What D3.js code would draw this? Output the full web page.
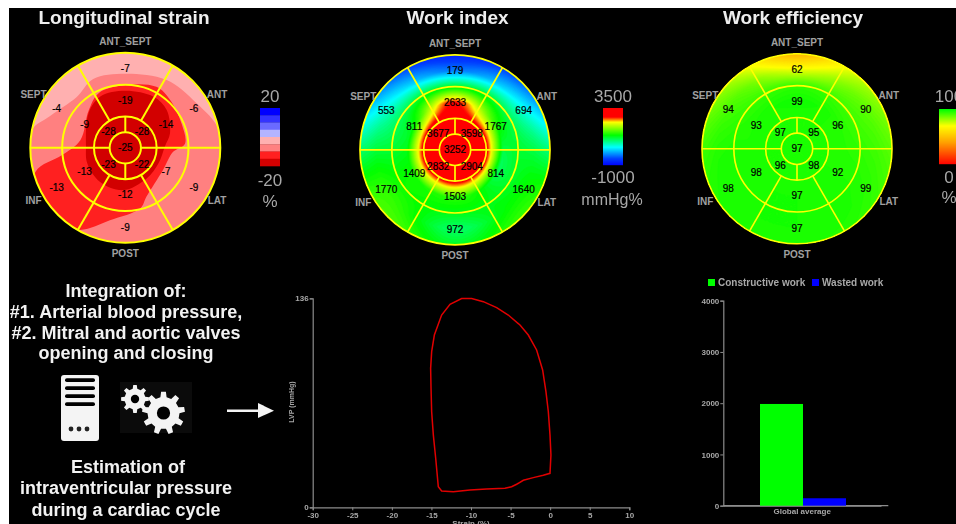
<!DOCTYPE html>
<html lang="en">
<head>
<meta charset="UTF-8">
<title>Longitudinal strain, work index and work efficiency</title>
<script src="https://d3js.org/d3.v7.min.js"></script>
<style>
  html, body { margin: 0; padding: 0; background: #fff; }
  svg { display: block; filter: blur(0.4px); font-family: "Liberation Sans", Arial, sans-serif; }
</style>
</head>
<body>
<svg id="chart" width="956" height="524"></svg>
<script>
// rim labels, clockwise from the top
const wallLabels = ['ANT_SEPT', 'ANT', 'LAT', 'POST', 'INF', 'SEPT'];

// segment values, same order as wallLabels (inner ring has four)
const strainOuter = [-7, -6, -9, -9, -13, -4];
const strainMid = [-19, -14, -7, -12, -13, -9];
const strainInner = [-28, -22, -23, -28];
const strainApex = -25;

const workOuter = [179, 694, 1640, 972, 1770, 553];
const workMid = [2633, 1767, 814, 1503, 1409, 811];
const workInner = [3598, 2904, 2832, 3677];
const workApex = 3252;

const effOuter = [62, 90, 99, 97, 98, 94];
const effMid = [99, 96, 92, 97, 98, 93];
const effInner = [95, 98, 96, 97];
const effApex = 97;

// strain band outlines: [degrees clockwise from top, radius fraction]
const strainBandSalmon = [[0,.78],[31,.835],[58,.885],[80,1.01],[120,1.3],[180,1.3],[240,1.3],[280,1.01],[293,.86],[316,.74],[335,.80]];
const strainBandRed = [[0,.66],[27,.72],[43,.69],[66.6,.645],[86,.63],[94.8,.505],[120,.46],[156.5,.56],[166,.656],[192,.78],[209,.99],[232,1.25],[255,.98],[263.4,.67],[279.6,.48],[315.5,.55],[334,.64]];
const strainBandDark = [[0,.60],[29,.614],[47.6,.59],[72,.495],[88,.417],[115,.386],[145,.393],[183,.446],[217,.446],[248,.432],[271.5,.414],[313,.53],[334,.60]];
const strainLegendColors = ['#0000ff', '#3333ff', '#6a6aff', '#b4b4ff', '#ffb0b0', '#ff8080', '#ff2020', '#d20000'];
const strainBandBase = '#ffb0b0';

// colour fields, rows = radius, columns = angle (every 30 deg from top)
const fieldRadii = [0, .17, .33, .5, .66, .83, 1];
const workField = [
  [3500,3500,3500,3500,3500,3500,3500,3500,3500,3500,3500,3500],
  [3400,3400,3400,3400,3400,3400,3400,3400,3400,3400,3400,3400],
  [3100,3000,2950,2950,2950,2950,3000,2950,2950,2950,2950,3100],
  [3200,2100,1500,1100,1000,1500,1600,1500,1500,1300,1200,2200],
  [1300,1300,1000,1300,1200,1400,1300,1400,1500,1200,1000,1300],
  [-300,200,500,1200,1500,1400,800,1500,1700,1200,600,200],
  [-800,-500,-100,1000,1700,1600,1100,1700,1800,1000,100,-500]
];
const effField = [
  [97,97,97,97,97,97,97,97,97,97,97,97],
  [97,97,97,97,97,97,97,97,97,97,97,97],
  [97,97,97,97,97,97,97,97,97,97,97,97],
  [99,98,96,96,97,98,98,98,98,97,97,98],
  [96,94,93,95,97,98,98,98,98,98,95,94],
  [66,86,90,93,96,98,98,98,98,97,92,88],
  [32,76,84,90,94,97,97,98,97,94,86,76]
];

// strain / pressure loop [strain %, LVP mmHg]
const loopStrain = [-0.02,0.1,-0.02,-0.23,-0.53,-0.95,-1.71,-2.76,-3.81,-5.29,-6.76,-8.44,-9.92,-11.18,-12.65,-13.71,-14.63,-14.97,-15.1,-15.05,-14.97,-14.76,-14.46,-14.13,-13.71,-12.23,-10.13,-8.02,-5.71,-4.87,-4.23,-3.39,-2.13,-0.87];
const loopPressure = [22.1,34.1,47.1,62.2,75.3,89.4,102.4,112.1,118.6,125.1,129.9,133.8,135.8,135.8,132.1,125.1,112.1,101.3,90.4,77.4,62.2,47.1,31.9,13.4,10.6,10.2,11.3,11.9,12.4,13.4,15,17.6,19.3,20.8];
const loopXTicks = [-30,-25,-20,-15,-10,-5,0,5,10];
const loopYTicks = [0,136];

// global work bars
const barCategory = ['Global average'];
const barSeries = ['Constructive work', 'Wasted work'];
const barValues = [1985, 145];
const barColors = ['#00ff00', '#0000ff'];
const barTicks = [0,1000,2000,3000,4000];

const leftTextTop = ['Integration of:', '#1. Arterial blood pressure,', '#2. Mitral and aortic valves', 'opening and closing'];
const leftTextBottom = ['Estimation of', 'intraventricular pressure', 'during a cardiac cycle'];

const R = 95;
const svg = d3.select('#chart');
svg.append('rect').attr('x', 9).attr('y', 8).attr('width', 947).attr('height', 516).attr('fill', '#000');

const workColor = d3.scaleLinear()
  .domain([-1000, -460, 440, 1385, 2420, 2825, 3500])
  .range(['#0000ff', '#0040ff', '#00ffff', '#00ff00', '#ffff00', '#ff0000', '#ff0000'])
  .clamp(true);
const effColor = d3.scaleLinear()
  .domain([0, 40, 70, 100])
  .range(['#ff0000', '#ffa000', '#ffff00', '#00ff00'])
  .clamp(true);

const deg = d => d * Math.PI / 180;
const radial = d3.scaleLinear().domain([0, 1]).range([0, R]);
const plainTick = d => String(d); // keeps the ascii hyphen on negative ticks
let clipCount = 0;

function bullseye(cx, cy, title, titleX, outer, mid, inner, apex, lineWidth, drawMap) {
  const g = svg.append('g').attr('transform', `translate(${cx},${cy})`);
  const clipId = 'disc' + (clipCount++);
  g.append('clipPath').attr('id', clipId).append('circle').attr('r', R);
  drawMap(g.append('g').attr('clip-path', `url(#${clipId})`));

  // grid
  const grid = g.append('g').attr('fill', 'none').attr('stroke', '#ffff00').attr('stroke-width', lineWidth);
  [1, .665, .33, .165].forEach(f => grid.append('circle').attr('r', radial(f)));
  const spokes = [[30,.33,1],[150,.33,1],[210,.33,1],[330,.33,1],[90,.165,1],[270,.165,1],[0,.165,.33],[180,.165,.33]];
  spokes.forEach(s => {
    const a = d3.pointRadial(deg(s[0]), radial(s[1]));
    const b = d3.pointRadial(deg(s[0]), radial(s[2]));
    grid.append('line').attr('x1', a[0]).attr('y1', a[1]).attr('x2', b[0]).attr('y2', b[1]);
  });

  // rim labels
  g.selectAll('.wall').data(wallLabels).join('text')
    .attr('class', 'wall')
    .attr('text-anchor', 'middle').attr('dy', '0.35em')
    .attr('font-size', 10).attr('font-weight', 'bold').attr('fill', '#a0a0a0')
    .attr('x', (d, i) => d3.pointRadial(deg(60 * i), 106)[0])
    .attr('y', (d, i) => d3.pointRadial(deg(60 * i), 106)[1])
    .text(d => d);

  // segment values
  const labels = [];
  outer.forEach((v, i) => labels.push({ v, p: d3.pointRadial(deg(60 * i), radial(.835)) }));
  mid.forEach((v, i) => labels.push({ v, p: d3.pointRadial(deg(60 * i), radial(.495)) }));
  inner.forEach((v, i) => labels.push({ v, p: d3.pointRadial(deg(45 + 90 * i), radial(.25)) }));
  labels.push({ v: apex, p: [0, 0] });
  g.selectAll('.seg').data(labels).join('text')
    .attr('class', 'seg')
    .attr('text-anchor', 'middle').attr('dy', '0.35em')
    .attr('font-size', 10).attr('fill', '#000').attr('stroke', '#000').attr('stroke-width', 0.2)
    .attr('x', d => d.p[0]).attr('y', d => d.p[1])
    .text(d => d.v);

  svg.append('text').attr('x', titleX).attr('y', 23.5)
    .attr('text-anchor', 'middle').attr('font-size', 19).attr('font-weight', 'bold').attr('fill', '#eee')
    .text(title);
}

function strainMap(g) {
  const outline = d3.lineRadial()
    .angle(d => deg(d[0]))
    .radius(d => radial(d[1]))
    .curve(d3.curveCatmullRomClosed);
  g.append('circle').attr('r', R).attr('fill', strainBandBase);
  g.append('path').attr('d', outline(strainBandSalmon)).attr('fill', strainLegendColors[5]);
  g.append('path').attr('d', outline(strainBandRed)).attr('fill', strainLegendColors[6]);
  g.append('path').attr('d', outline(strainBandDark)).attr('fill', strainLegendColors[7]);
}

// filled contours of a table read in polar form
function fieldMap(table, color, lo, hi, steps) {
  return function (g) {
    const n = 2 * R + 4;
    const rows = table.map(row => d3.interpolateBasisClosed(row));
    const values = new Float64Array(n * n);
    for (let j = 0; j < n; j++) {
      for (let i = 0; i < n; i++) {
        const dx = i - n / 2, dy = j - n / 2;
        const r = Math.min(1, Math.hypot(dx, dy) / R);
        let t = Math.atan2(dx, -dy) / (2 * Math.PI);
        if (t < 0) t += 1;
        const k = Math.min(fieldRadii.length - 2, d3.bisectRight(fieldRadii, r) - 1);
        const f = (r - fieldRadii[k]) / (fieldRadii[k + 1] - fieldRadii[k]);
        values[j * n + i] = rows[k](t) * (1 - f) + rows[k + 1](t) * f;
      }
    }
    const thresholds = d3.range(steps).map(s => lo + (hi - lo) * s / steps);
    const contours = d3.contours().size([n, n]).thresholds(thresholds)(values);
    g.append('g')
      .attr('transform', `translate(${-n / 2 - 0.5},${-n / 2 - 0.5})`)
      .selectAll('path').data(contours).join('path')
      .attr('d', d3.geoPath())
      .attr('fill', d => color(d.value))
      .attr('stroke', d => color(d.value)).attr('stroke-width', 0.4);
  };
}

bullseye(125.3, 147.8, 'Longitudinal strain', 124, strainOuter, strainMid, strainInner, strainApex, 2, strainMap);
bullseye(455, 149.8, 'Work index', 457.5, workOuter, workMid, workInner, workApex, 1.7, fieldMap(workField, workColor, -1000, 3500, 90));
bullseye(797, 148.8, 'Work efficiency', 793, effOuter, effMid, effInner, effApex, 1.6, fieldMap(effField, effColor, 0, 100, 100));

// colour legends
function legendText(x, y, str, size) {
  svg.append('text').attr('x', x).attr('y', y).attr('text-anchor', 'middle')
    .attr('font-size', size || 17).attr('fill', '#a8a8a8').text(str);
}
const strainBand = d3.scaleBand().domain(d3.range(8)).range([108, 166]);
svg.selectAll('.slegend').data(strainLegendColors).join('rect')
  .attr('class', 'slegend').attr('x', 260).attr('width', 20)
  .attr('y', (d, i) => strainBand(i)).attr('height', strainBand.bandwidth() + 0.3)
  .attr('fill', d => d);
legendText(270, 102, '20');
legendText(270, 186, '-20');
legendText(270, 207, '%');

function gradientLegend(x, y0, y1, lo, hi, color) {
  const y = d3.scaleLinear().domain([hi, lo]).range([y0, y1]);
  svg.append('g').selectAll('rect').data(d3.range(y0, y1)).join('rect')
    .attr('x', x).attr('width', 20).attr('y', d => d).attr('height', 1.2)
    .attr('fill', d => color(y.invert(d)));
}
gradientLegend(603, 108, 165, -1000, 3500, workColor);
legendText(613, 102, '3500');
legendText(613, 183, '-1000');
legendText(612, 205, 'mmHg%', 16);
gradientLegend(939, 109, 164, 0, 100, effColor);
legendText(949, 102, '100');
legendText(949, 183, '0');
legendText(949, 203, '%');

// left text block
function textBlock(lines, ys, xs) {
  lines.forEach((s, i) => {
    svg.append('text').attr('x', xs[i]).attr('y', ys[i]).attr('text-anchor', 'middle')
      .attr('font-size', 18).attr('font-weight', 'bold').attr('fill', '#f2f2f2').text(s);
  });
}
textBlock(leftTextTop, [296.5, 317.5, 338.5, 358.5], [126, 126, 126, 126]);
textBlock(leftTextBottom, [472.5, 493.5, 515.5], [128, 126, 126]);

// server icon
const server = svg.append('g').attr('transform', 'translate(61,375)');
server.append('rect').attr('width', 38).attr('height', 66).attr('rx', 3).attr('fill', '#f4f4f4');
[3.2, 11.2, 19.2, 27.2].forEach(y => server.append('rect').attr('x', 4).attr('y', y).attr('width', 30).attr('height', 3.8).attr('rx', 1.8).attr('fill', '#000'));
[10, 18, 26].forEach(x => server.append('circle').attr('cx', x).attr('cy', 54).attr('r', 2.4).attr('fill', '#222'));

// gears
svg.append('rect').attr('x', 120).attr('y', 382).attr('width', 72).attr('height', 51).attr('fill', '#0b0b0b');
function gear(cx, cy, rOut, rIn, hole, teeth) {
  const pts = [];
  for (let i = 0; i < teeth; i++) {
    const step = 360 / teeth;
    const a = i * step;
    pts.push([a - step * .28, rIn], [a - step * .16, rOut], [a + step * .16, rOut], [a + step * .28, rIn]);
  }
  const line = d3.lineRadial().angle(d => deg(d[0])).radius(d => d[1]);
  const g = svg.append('g').attr('transform', `translate(${cx},${cy})`);
  g.append('path').attr('d', line(pts) + 'Z').attr('fill', '#f4f4f4');
  g.append('circle').attr('r', hole).attr('fill', '#000');
}
gear(135, 399, 14, 10.5, 4.2, 8);
gear(163.5, 413, 21.5, 16, 6.6, 9);

// arrow
svg.append('line').attr('x1', 227).attr('y1', 410.7).attr('x2', 260).attr('y2', 410.7)
  .attr('stroke', '#f4f4f4').attr('stroke-width', 2.5);
svg.append('path').attr('d', d3.line()([[258, 403], [274, 410.7], [258, 418]]) + 'Z').attr('fill', '#f4f4f4');

// loop chart
const axisColor = '#8c8c8c';
const tickText = '#a8a8a8';
function styleAxis(sel) {
  sel.selectAll('path,line').attr('stroke', axisColor);
  sel.select('.domain').attr('stroke-width', 1.2);
  sel.selectAll('text').attr('fill', tickText).attr('font-size', 8).attr('font-weight', 'bold')
    .attr('font-family', '"Liberation Sans", Arial, sans-serif');
}
const xLoop = d3.scaleLinear().domain([-30, 10]).range([312.7, 629.3]);
const yLoop = d3.scaleLinear().domain([0, 136]).range([507.3, 298.3]);
svg.append('g').attr('transform', 'translate(0,507.3)')
  .call(d3.axisBottom(xLoop).tickValues(loopXTicks).tickFormat(plainTick).tickSize(3).tickPadding(2).tickSizeOuter(3))
  .call(styleAxis);
svg.append('g').attr('transform', 'translate(312.7,0)')
  .call(d3.axisLeft(yLoop).tickValues(loopYTicks).tickFormat(plainTick).tickSize(3).tickPadding(1).tickSizeOuter(3))
  .call(styleAxis);
svg.append('path')
  .attr('d', d3.line().x(d => xLoop(loopStrain[d])).y(d => yLoop(loopPressure[d])).curve(d3.curveLinearClosed)(d3.range(loopStrain.length)))
  .attr('fill', 'none').attr('stroke', '#e00000').attr('stroke-width', 1.5);
svg.append('text').attr('transform', 'translate(294,402) rotate(-90)').attr('text-anchor', 'middle')
  .attr('font-size', 7).attr('font-weight', 'bold').attr('fill', tickText).text('LVP (mmHg)');
svg.append('text').attr('x', 471).attr('y', 526).attr('text-anchor', 'middle')
  .attr('font-size', 8).attr('font-weight', 'bold').attr('fill', tickText).text('Strain (%)');

// bars
const xBar = d3.scaleBand().domain(barCategory).range([723.3, 881]);
const xSeries = d3.scaleBand().domain(barSeries).range([760, 846]);
const yBar = d3.scaleLinear().domain([0, 4000]).range([505.7, 300.7]);
svg.append('g').attr('transform', 'translate(0,505.7)')
  .call(d3.axisBottom(xBar).tickSize(0).tickPadding(3).tickSizeOuter(0))
  .call(styleAxis);
svg.append('line').attr('x1', 723.3).attr('x2', 888.3).attr('y1', 505.7).attr('y2', 505.7).attr('stroke', axisColor).attr('stroke-width', 1.2);
svg.append('g').attr('transform', 'translate(723.3,0)')
  .call(d3.axisLeft(yBar).tickValues(barTicks).tickFormat(plainTick).tickSize(3).tickPadding(1).tickSizeOuter(3))
  .call(styleAxis);
svg.selectAll('.bar').data(barSeries).join('rect')
  .attr('class', 'bar')
  .attr('x', d => xSeries(d)).attr('width', xSeries.bandwidth())
  .attr('y', (d, i) => yBar(barValues[i])).attr('height', (d, i) => yBar(0) - yBar(barValues[i]))
  .attr('fill', (d, i) => barColors[i]);

const legendX = [708, 812];
barSeries.forEach((s, i) => {
  svg.append('rect').attr('x', legendX[i]).attr('y', 279).attr('width', 7).attr('height', 7).attr('fill', barColors[i]);
  svg.append('text').attr('x', legendX[i] + 10).attr('y', 286).attr('font-size', 10).attr('font-weight', 'bold').attr('fill', '#a8a8a8').text(s);
});
</script>
</body>
</html>
